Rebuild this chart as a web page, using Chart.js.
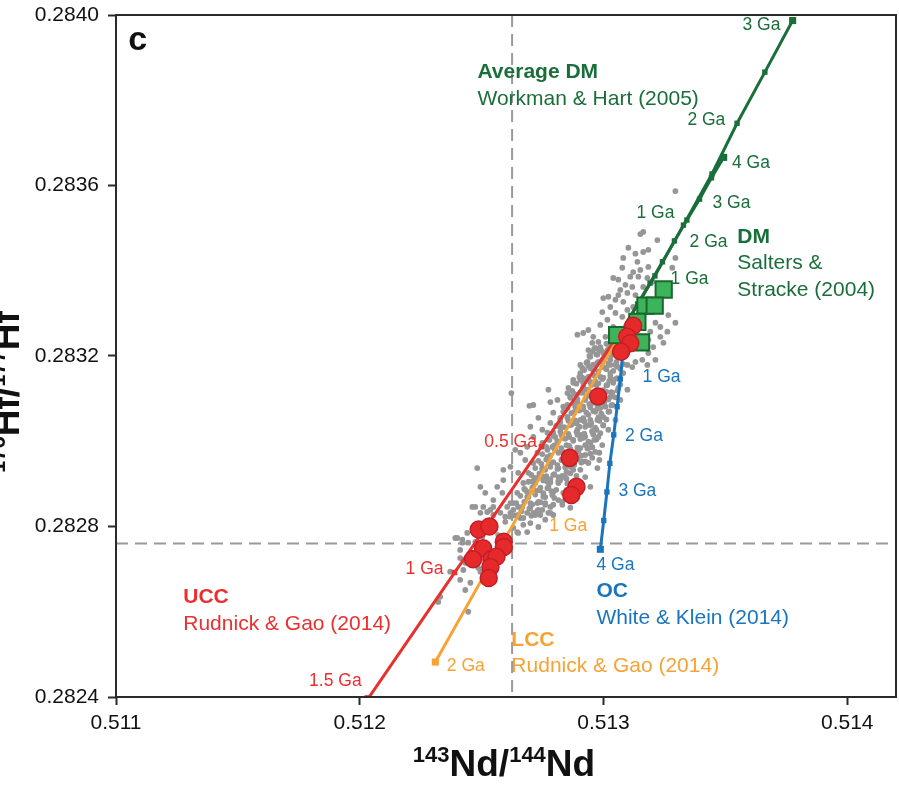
<!DOCTYPE html>
<html>
<head>
<meta charset="utf-8">
<script src="https://cdn.jsdelivr.net/npm/chart.js@4/dist/chart.umd.min.js"></script>
<style>
  html, body { margin: 0; padding: 0; background: #fff; }
  #wrap { width: 899px; height: 794px; }
</style>
</head>
<body>
<div id="wrap"><canvas id="chart" width="899" height="794"></canvas></div>
<script>
// axis ranges and ticks
const xMin = 0.511, xMax = 0.5142, xStep = 0.001;
const yMin = 0.2824, yMax = 0.2840, yStep = 0.0004;

// CHUR reference values (dashed lines)
const churNd = 0.512625;
const churHf = 0.28276;

// crustal / mantle evolution curves, one point every 0.5 Ga from today
const uccNd = [0.51309, 0.512745, 0.512389, 0.512034];
const uccHf = [0.283273, 0.282987, 0.282692, 0.282396];

const lccNd = [0.51309, 0.512901, 0.512707, 0.512508, 0.51231];
const lccHf = [0.283273, 0.283081, 0.282883, 0.282683, 0.282482];

const ocNd = [0.51309, 0.51308, 0.513069, 0.513056, 0.513042, 0.513026, 0.513014, 0.513001, 0.512987];
const ocHf = [0.283273, 0.283209, 0.283146, 0.283081, 0.283015, 0.282948, 0.282881, 0.282814, 0.2827465];

const dmNd = [0.51309, 0.51314, 0.513191, 0.513242, 0.513291, 0.513342, 0.513394, 0.513443, 0.513493];
const dmHf = [0.283273, 0.283322, 0.283371, 0.283421, 0.28347, 0.283519, 0.283568, 0.283618, 0.283666];

const avgDmNd = [0.51309, 0.513211, 0.513328, 0.513445, 0.513548, 0.513662, 0.513776];
const avgDmHf = [0.283273, 0.283388, 0.283507, 0.283627, 0.283746, 0.283866, 0.283987];

// red circles
const crustNd = [0.513122, 0.513097, 0.51311, 0.513072, 0.512978, 0.512861, 0.512889, 0.512868,
  0.512488, 0.512532, 0.512591, 0.512591, 0.512506, 0.512465, 0.51254, 0.512561, 0.512536, 0.512529];
const crustHf = [0.283271, 0.283245, 0.28323, 0.28321, 0.283105, 0.282961, 0.282893, 0.282874,
  0.282793, 0.2828, 0.282764, 0.282752, 0.282749, 0.282723, 0.282723, 0.282729, 0.282705, 0.282679];

// green squares
const mantleNd = [0.513247, 0.513172, 0.51321, 0.513139, 0.513056, 0.513154];
const mantleHf = [0.283356, 0.283318, 0.283318, 0.28328, 0.283249, 0.283232];

// grey sample cloud [Nd, Hf]
const samples = [
  [0.513295,0.283587],[0.513163,0.283491],[0.513151,0.283486],[0.513102,0.283454],[0.513184,0.283449],
  [0.513163,0.283444],[0.513131,0.283440],[0.513081,0.283430],[0.513139,0.283421],[0.513295,0.283430],
  [0.513077,0.283407],[0.513184,0.283409],[0.513151,0.283402],[0.513122,0.283397],[0.513040,0.283383],
  [0.513061,0.283379],[0.513110,0.283386],[0.513143,0.283386],[0.513180,0.283383],[0.513200,0.283374],
  [0.513090,0.283367],[0.513118,0.283362],[0.513069,0.283355],[0.513163,0.283362],[0.513020,0.283339],
  [0.513061,0.283343],[0.513098,0.283348],[0.513131,0.283343],[0.513049,0.283332],[0.513081,0.283327],
  [0.512999,0.283336],[0.513028,0.283315],[0.513098,0.283308],[0.513122,0.283315],[0.512995,0.283303],
  [0.513049,0.283301],[0.513077,0.283292],[0.513016,0.283285],[0.512987,0.283273],[0.513040,0.283268],
  [0.512938,0.283261],[0.512917,0.283254],[0.512893,0.283250],[0.512958,0.283245],[0.513008,0.283245],
  [0.512954,0.283231],[0.512987,0.283221],[0.512938,0.283214],[0.513016,0.283214],[0.512975,0.283203],
  [0.512934,0.283186],[0.512975,0.283184],[0.512905,0.283179],[0.513266,0.283296],[0.513213,0.283278],
  [0.513233,0.283268],[0.513295,0.283278],[0.513262,0.283257],[0.513192,0.283257],[0.513233,0.283245],
  [0.513184,0.283238],[0.513246,0.283231],[0.513204,0.283221],[0.513184,0.283207],[0.513159,0.283191],
  [0.513213,0.283191],[0.513131,0.283186],[0.513180,0.283179],[0.513118,0.283174],[0.513098,0.283179],
  [0.513282,0.283407],[0.513221,0.283472],[0.512622,0.283113],[0.512774,0.283121],[0.512712,0.283085],
  [0.512696,0.283083],[0.512782,0.283092],[0.512733,0.283055],[0.512700,0.283034],[0.512749,0.283027],
  [0.512712,0.283010],[0.512687,0.282987],[0.512659,0.282973],[0.512638,0.282980],[0.512679,0.282956],
  [0.512618,0.282940],[0.512589,0.282933],[0.512650,0.282926],[0.512482,0.282937],[0.512589,0.282909],
  [0.512564,0.282893],[0.512495,0.282893],[0.512515,0.282879],[0.512585,0.282879],[0.512548,0.282862],
  [0.512474,0.282846],[0.512605,0.282846],[0.512507,0.282846],[0.512536,0.282839],[0.512495,0.282832],
  [0.512577,0.282832],[0.512852,0.283113],[0.512876,0.283137],[0.512913,0.283172],[0.512905,0.283160],
  [0.512876,0.283144],[0.512938,0.283151],[0.512856,0.283125],[0.512917,0.283128],[0.512811,0.283097],
  [0.512864,0.283104],[0.512835,0.283081],[0.512794,0.283067],[0.512852,0.283057],[0.512782,0.283043],
  [0.512823,0.283034],[0.512770,0.283020],[0.512802,0.283010],[0.512749,0.282996],[0.512790,0.282987],
  [0.512729,0.282973],[0.512770,0.282963],[0.512712,0.282949],[0.512749,0.282937],[0.512692,0.282926],
  [0.512729,0.282914],[0.512671,0.282902],[0.512708,0.282886],[0.512646,0.282879],[0.512687,0.282869],
  [0.512630,0.282855],[0.512667,0.282846],[0.512618,0.282832],[0.512650,0.282827],[0.512999,0.283207],
  [0.513028,0.283191],[0.512979,0.283186],[0.513008,0.283172],[0.512958,0.283167],[0.513028,0.283160],
  [0.512987,0.283151],[0.512946,0.283139],[0.513016,0.283132],[0.512925,0.283121],[0.512999,0.283109],
  [0.513028,0.283104],[0.512954,0.283090],[0.512917,0.283081],[0.512987,0.283078],[0.513020,0.283069],
  [0.512938,0.283062],[0.512905,0.283050],[0.512975,0.283050],[0.512925,0.283034],[0.512999,0.283038],
  [0.512954,0.283022],[0.512893,0.283027],[0.512979,0.283010],[0.512917,0.283008],[0.512876,0.283003],
  [0.512946,0.282996],[0.512995,0.282991],[0.512905,0.282984],[0.512864,0.282980],[0.512925,0.282968],
  [0.512966,0.282975],[0.512893,0.282961],[0.512835,0.282956],[0.512938,0.282949],[0.512864,0.282940],
  [0.512815,0.282937],[0.512905,0.282933],[0.512975,0.282937],[0.512794,0.282921],[0.512843,0.282916],
  [0.512925,0.282916],[0.512770,0.282905],[0.512815,0.282902],[0.512946,0.282893],[0.512741,0.282891],
  [0.512794,0.282881],[0.512835,0.282879],[0.512761,0.282869],[0.512815,0.282862],[0.512729,0.282855],
  [0.512782,0.282846],[0.512749,0.282839],[0.512864,0.282844],[0.512712,0.282832],[0.512794,0.282827],
  [0.512983,0.282973],[0.512983,0.282956],[0.512733,0.282858],[0.512782,0.282832],[0.512761,0.282816],
  [0.512687,0.282832],[0.512720,0.282827],[0.512646,0.282787],[0.512462,0.282846],[0.512548,0.282846],
  [0.512392,0.282773],[0.512421,0.282762],[0.513081,0.283160],[0.513098,0.283121],[0.513098,0.283207],
  [0.513069,0.283097],[0.512523,0.282834],[0.512548,0.282827],[0.512618,0.282855],[0.512650,0.282846],
  [0.512700,0.282855],[0.512733,0.282839],[0.512761,0.282855],[0.512794,0.282851],[0.512831,0.282858],
  [0.512774,0.282832],[0.512741,0.282827],[0.512659,0.282820],[0.512618,0.282823],[0.512597,0.282811],
  [0.512671,0.282804],[0.512700,0.282808],[0.512733,0.282799],[0.512630,0.282797],[0.512650,0.282785],
  [0.512687,0.282787],[0.512568,0.282780],[0.512441,0.282785],[0.512421,0.282769],[0.512400,0.282773],
  [0.512445,0.282762],[0.512474,0.282764],[0.512503,0.282776],[0.512412,0.282745],[0.512462,0.282738],
  [0.512412,0.282726],[0.512433,0.282715],[0.512486,0.282703],[0.512425,0.282698],[0.512371,0.282694],
  [0.512454,0.282668],[0.512433,0.282651],[0.512330,0.282635],[0.512322,0.282623],[0.512445,0.282600],
  [0.512495,0.282694],[0.512412,0.282675],[0.512556,0.282710],[0.512503,0.282762],[0.513036,0.283226],
  [0.513057,0.283210],[0.513049,0.283179],[0.513040,0.283144],[0.513061,0.283125],[0.513012,0.283116],
  [0.512966,0.283109],[0.513036,0.283085],[0.513003,0.283092],[0.512966,0.283069],[0.512999,0.283057],
  [0.512946,0.283038],[0.513020,0.283027],[0.512971,0.283027],[0.512905,0.283015],[0.512962,0.283003],
  [0.512938,0.282984],[0.512889,0.282975],[0.512954,0.282961],[0.512913,0.282952],[0.512880,0.282945],
  [0.512848,0.282928],[0.512889,0.282919],[0.512823,0.282909],[0.512872,0.282898],[0.512774,0.282893],
  [0.512848,0.282886],[0.512905,0.282881],[0.512798,0.282867],[0.512831,0.282851],[0.512966,0.283219],
  [0.512946,0.283198],[0.512913,0.283149],[0.512889,0.283109],[0.512843,0.283074],[0.512880,0.283069],
  [0.512823,0.283055],[0.512864,0.283038],[0.512802,0.282980],[0.512831,0.283008],[0.512761,0.282933],
  [0.512708,0.282905],[0.512679,0.282886],[0.512995,0.283191],[0.512971,0.283132],[0.513049,0.283050],
  [0.512925,0.283097],[0.512893,0.283092],[0.512848,0.282991],[0.512761,0.282851],[0.512700,0.282844],
  // dense core of the array
  [0.512979,0.283233],[0.513012,0.283229],[0.513040,0.283236],[0.513073,0.283231],
  [0.512962,0.283217],[0.512991,0.283213],[0.513024,0.283220],[0.513053,0.283215],[0.513081,0.283219],
  [0.512942,0.283200],[0.512971,0.283204],[0.513003,0.283197],[0.513032,0.283202],[0.513065,0.283198],[0.513094,0.283203],
  [0.512930,0.283184],[0.512958,0.283180],[0.512991,0.283187],[0.513020,0.283182],[0.513053,0.283186],[0.513081,0.283181],
  [0.512921,0.283167],[0.512946,0.283171],[0.512979,0.283164],[0.513012,0.283169],[0.513040,0.283165],[0.513069,0.283170],
  [0.512901,0.283151],[0.512930,0.283147],[0.512962,0.283154],[0.512999,0.283149],[0.513028,0.283153],[0.513057,0.283148],
  [0.512889,0.283135],[0.512917,0.283138],[0.512950,0.283132],[0.512979,0.283136],[0.513012,0.283131],[0.513040,0.283137],[0.513069,0.283133],
  [0.512872,0.283118],[0.512905,0.283114],[0.512938,0.283121],[0.512966,0.283116],[0.512999,0.283120],[0.513032,0.283115],[0.513057,0.283119],
  [0.512864,0.283102],[0.512893,0.283099],[0.512930,0.283105],[0.512958,0.283100],[0.512987,0.283104],[0.513020,0.283098],[0.513049,0.283103],
  [0.512852,0.283085],[0.512880,0.283088],[0.512913,0.283082],[0.512942,0.283087],[0.512975,0.283083],[0.513003,0.283088],[0.513032,0.283084],
  [0.512835,0.283069],[0.512868,0.283066],[0.512901,0.283072],[0.512930,0.283067],[0.512958,0.283071],[0.512991,0.283065],[0.513024,0.283070],
  [0.512823,0.283052],[0.512852,0.283055],[0.512884,0.283049],[0.512917,0.283054],[0.512946,0.283050],[0.512979,0.283056],[0.513012,0.283051],
  [0.512806,0.283036],[0.512839,0.283033],[0.512868,0.283039],[0.512901,0.283034],[0.512934,0.283038],[0.512966,0.283032],[0.512999,0.283037],
  [0.512794,0.283020],[0.512823,0.283023],[0.512856,0.283017],[0.512889,0.283022],[0.512921,0.283018],[0.512954,0.283024],[0.512987,0.283019],
  [0.512778,0.283003],[0.512811,0.283000],[0.512843,0.283006],[0.512876,0.283001],[0.512905,0.283005],[0.512938,0.282999],[0.512971,0.283004],
  [0.512765,0.282987],[0.512798,0.282990],[0.512827,0.282984],[0.512860,0.282989],[0.512893,0.282985],[0.512925,0.282991],[0.512954,0.282986],
  [0.512749,0.282970],[0.512782,0.282967],[0.512815,0.282973],[0.512843,0.282968],[0.512876,0.282972],[0.512909,0.282966],[0.512946,0.282971],
  [0.512733,0.282954],[0.512765,0.282957],[0.512794,0.282951],[0.512827,0.282956],[0.512860,0.282952],[0.512893,0.282958],[0.512925,0.282953],
  [0.512720,0.282937],[0.512749,0.282934],[0.512782,0.282940],[0.512811,0.282935],[0.512843,0.282939],[0.512876,0.282933],
  [0.512704,0.282921],[0.512737,0.282924],[0.512765,0.282918],[0.512798,0.282923],[0.512831,0.282919],[0.512864,0.282925],
  [0.512692,0.282905],[0.512720,0.282902],[0.512753,0.282908],[0.512782,0.282903],[0.512815,0.282907],[0.512852,0.282901],
  [0.512675,0.282888],[0.512708,0.282891],[0.512737,0.282885],[0.512770,0.282890],[0.512806,0.282886],
  [0.512659,0.282872],[0.512692,0.282869],[0.512720,0.282875],[0.512753,0.282870],[0.512790,0.282874],
  [0.512642,0.282855],[0.512675,0.282858],[0.512708,0.282852],[0.512741,0.282857],
  [0.512630,0.282839],[0.512663,0.282836],[0.512696,0.282842],[0.512729,0.282837],
  [0.512597,0.282823],[0.512634,0.282826],[0.512671,0.282820],[0.512704,0.282825],
  [0.512954,0.283210],[0.512983,0.283213],[0.513012,0.283207],[0.513040,0.283212],[0.513069,0.283208],
  [0.512938,0.283177],[0.512966,0.283180],[0.512995,0.283174],[0.513028,0.283179],[0.513057,0.283175],
  [0.512905,0.283144],[0.512938,0.283147],[0.512966,0.283141],[0.512995,0.283146],[0.513024,0.283142],[0.513053,0.283147],
  [0.512880,0.283111],[0.512913,0.283114],[0.512946,0.283108],[0.512975,0.283113],[0.513003,0.283109],[0.513036,0.283114],
  [0.512852,0.283078],[0.512884,0.283081],[0.512917,0.283075],[0.512946,0.283080],[0.512975,0.283076],[0.513008,0.283081],
  [0.512823,0.283045],[0.512856,0.283048],[0.512889,0.283042],[0.512921,0.283047],[0.512950,0.283043],[0.512983,0.283048],
  [0.512794,0.283013],[0.512827,0.283016],[0.512860,0.283010],[0.512893,0.283015],[0.512925,0.283011],[0.512958,0.283016],
  [0.512770,0.282980],[0.512798,0.282983],[0.512831,0.282977],[0.512864,0.282982],[0.512897,0.282978],[0.512934,0.282983],
  [0.512745,0.282947],[0.512778,0.282950],[0.512811,0.282944],[0.512843,0.282949],[0.512876,0.282945],[0.512909,0.282950],
  [0.512716,0.282914],[0.512749,0.282917],[0.512782,0.282911],[0.512815,0.282916],[0.512848,0.282912],
  [0.512687,0.282881],[0.512720,0.282884],[0.512753,0.282878],[0.512786,0.282883]
];

const RED = '#e8302e', ORANGE = '#f7a234', BLUE = '#1b75bc', GREEN = '#1a6e3a';

const toPoints = (xs, ys) => xs.map((x, i) => ({ x: x, y: ys[i] }));

// age labels along each curve: [text, Nd, Hf]
const ageLabels = [
  { color: GREEN, items: [['3 Ga', 0.513648, 0.283977], ['2 Ga', 0.513422, 0.283754], ['1 Ga', 0.513213, 0.283536]] },
  { color: GREEN, items: [['4 Ga', 0.513605, 0.283652], ['3 Ga', 0.513525, 0.283558], ['2 Ga', 0.513431, 0.283468], ['1 Ga', 0.513353, 0.283381]] },
  { color: RED, items: [['0.5 Ga', 0.512619, 0.282999], ['1 Ga', 0.512266, 0.2827], ['1.5 Ga', 0.5119, 0.282438]] },
  { color: ORANGE, items: [['1 Ga', 0.512855, 0.282801], ['2 Ga', 0.512435, 0.282473]] },
  { color: BLUE, items: [['1 Ga', 0.513238, 0.283151], ['2 Ga', 0.513166, 0.283011], ['3 Ga', 0.513139, 0.282882], ['4 Ga', 0.513049, 0.28271]] }
];

// reservoir captions: [text, bold, Nd (left edge), Hf (middle)]
const captions = [
  { color: GREEN, lines: [['Average DM', true, 0.512483, 0.283866], ['Workman & Hart (2005)', false, 0.512483, 0.283803]] },
  { color: GREEN, lines: [['DM', true, 0.513549, 0.283479], ['Salters &', false, 0.513549, 0.283418], ['Stracke (2004)', false, 0.513549, 0.283355]] },
  { color: RED, lines: [['UCC', true, 0.511276, 0.282635], ['Rudnick & Gao (2014)', false, 0.511276, 0.282571]] },
  { color: ORANGE, lines: [['LCC', true, 0.512622, 0.282533], ['Rudnick & Gao (2014)', false, 0.512622, 0.282472]] },
  { color: BLUE, lines: [['OC', true, 0.512971, 0.282649], ['White & Klein (2014)', false, 0.512971, 0.282585]] }
];

const FONT = '"Liberation Sans", Arial, Helvetica, sans-serif';

function curve(label, xs, ys, color, small, big, order) {
  const radii = xs.map((_, i) => i === 0 ? 0 : (i === xs.length - 1 ? big : small));
  return {
    label: label,
    data: toPoints(xs, ys),
    showLine: true,
    borderColor: color,
    backgroundColor: color,
    borderWidth: 3,
    pointStyle: 'rect',
    pointRadius: radii,
    pointBorderWidth: 0,
    order: order
  };
}

// draws a run of text pieces, some of them superscript, centred on 0
function drawSupText(ctx, pieces, size, supSize, supRise) {
  const fonts = pieces.map(p => 'bold ' + (p.sup ? supSize : size) + 'px ' + FONT);
  let total = 0;
  const widths = pieces.map((p, i) => { ctx.font = fonts[i]; const w = ctx.measureText(p.t).width; total += w; return w; });
  let x = -total / 2;
  ctx.textAlign = 'left';
  ctx.textBaseline = 'alphabetic';
  pieces.forEach((p, i) => {
    ctx.font = fonts[i];
    ctx.fillText(p.t, x, p.sup ? -supRise : 0);
    x += widths[i];
  });
}

const decorations = {
  id: 'decorations',
  beforeDatasetsDraw(chart) {
    const { ctx, chartArea: a, scales: { x, y } } = chart;
    ctx.save();
    ctx.strokeStyle = '#9a9a9a';
    ctx.lineWidth = 2;
    ctx.setLineDash([12, 7]);
    const cx = x.getPixelForValue(churNd);
    const cy = y.getPixelForValue(churHf);
    ctx.beginPath();
    ctx.moveTo(cx, a.top); ctx.lineTo(cx, a.bottom);
    ctx.moveTo(a.left, cy); ctx.lineTo(a.right, cy);
    ctx.stroke();
    ctx.restore();
  },
  afterDatasetsDraw(chart) {
    const { ctx, chartArea: a, scales: { x, y } } = chart;
    ctx.save();
    // frame
    ctx.strokeStyle = '#2a2a2a';
    ctx.lineWidth = 2;
    ctx.strokeRect(a.left, a.top, a.right - a.left, a.bottom - a.top);

    // panel letter
    ctx.fillStyle = '#111';
    ctx.font = 'bold 34px ' + FONT;
    ctx.textBaseline = 'middle';
    ctx.textAlign = 'left';
    ctx.fillText('c', x.getPixelForValue(0.51105), y.getPixelForValue(0.283939));

    // age labels
    ctx.textAlign = 'center';
    ctx.font = '17.5px ' + FONT;
    ageLabels.forEach(g => {
      ctx.fillStyle = g.color;
      g.items.forEach(([t, nd, hf]) => ctx.fillText(t, x.getPixelForValue(nd), y.getPixelForValue(hf)));
    });

    // reservoir captions
    ctx.textAlign = 'left';
    captions.forEach(c => {
      ctx.fillStyle = c.color;
      c.lines.forEach(([t, bold, nd, hf]) => {
        ctx.font = (bold ? 'bold ' : '') + '21px ' + FONT;
        ctx.fillText(t, x.getPixelForValue(nd), y.getPixelForValue(hf));
      });
    });

    // axis titles
    ctx.fillStyle = '#111';
    ctx.save();
    ctx.translate(504, 776);
    drawSupText(ctx, [{ t: '143', sup: true }, { t: 'Nd' }, { t: '/' }, { t: '144', sup: true }, { t: 'Nd' }], 37, 22, 14);
    ctx.restore();
    ctx.save();
    ctx.translate(19, 392);
    ctx.rotate(-Math.PI / 2);
    drawSupText(ctx, [{ t: '176', sup: true }, { t: 'Hf' }, { t: '/' }, { t: '177', sup: true }, { t: 'Hf' }], 37, 22, 14);
    ctx.restore();
    ctx.restore();
  }
};

new Chart(document.getElementById('chart'), {
  type: 'scatter',
  data: {
    datasets: [
      {
        label: 'Crust',
        data: toPoints(crustNd, crustHf),
        pointStyle: 'circle',
        pointRadius: 8.5,
        pointBackgroundColor: '#e62a2b',
        pointBorderColor: '#c41e25',
        pointBorderWidth: 1.5,
        order: 0
      },
      {
        label: 'Mantle',
        data: toPoints(mantleNd, mantleHf),
        pointStyle: 'rect',
        pointRadius: 11.5,
        pointBackgroundColor: '#3db35a',
        pointBorderColor: '#17692f',
        pointBorderWidth: 2,
        order: 1
      },
      curve('Average DM', avgDmNd, avgDmHf, GREEN, 3.8, 5, 2),
      curve('DM', dmNd, dmHf, GREEN, 3.8, 5, 3),
      curve('OC', ocNd, ocHf, BLUE, 3.8, 5, 4),
      curve('LCC', lccNd, lccHf, ORANGE, 3.8, 5, 5),
      curve('UCC', uccNd, uccHf, RED, 3.8, 5, 6),
      {
        label: 'Samples',
        data: samples.map(([nd, hf]) => ({ x: nd, y: hf })),
        pointRadius: 2.9,
        pointBackgroundColor: '#969696',
        pointBorderWidth: 0,
        order: 10
      }
    ]
  },
  options: {
    responsive: false,
    animation: false,
    layout: { autoPadding: false, padding: { top: 15, right: 3, left: 0, bottom: 0 } },
    plugins: { legend: { display: false }, tooltip: { enabled: false } },
    scales: {
      x: {
        type: 'linear',
        min: xMin, max: xMax,
        afterFit: s => { s.height = 97; s.paddingLeft = 0; s.paddingRight = 0; },
        border: { display: false },
        grid: { drawOnChartArea: false, drawTicks: true, tickLength: 8, tickWidth: 2, tickColor: '#2a2a2a' },
        ticks: {
          stepSize: xStep, includeBounds: false, padding: 6,
          color: '#111', font: { family: FONT, size: 21 },
          callback: v => v.toFixed(3)
        }
      },
      y: {
        type: 'linear',
        min: yMin, max: yMax,
        afterFit: s => { s.width = 116; s.paddingTop = 0; s.paddingBottom = 0; },
        border: { display: false },
        grid: { drawOnChartArea: false, drawTicks: true, tickLength: 8, tickWidth: 2, tickColor: '#2a2a2a' },
        ticks: {
          stepSize: yStep, padding: 9,
          color: '#111', font: { family: FONT, size: 21 },
          callback: v => v.toFixed(4)
        }
      }
    }
  },
  plugins: [decorations]
});
</script>
</body>
</html>
